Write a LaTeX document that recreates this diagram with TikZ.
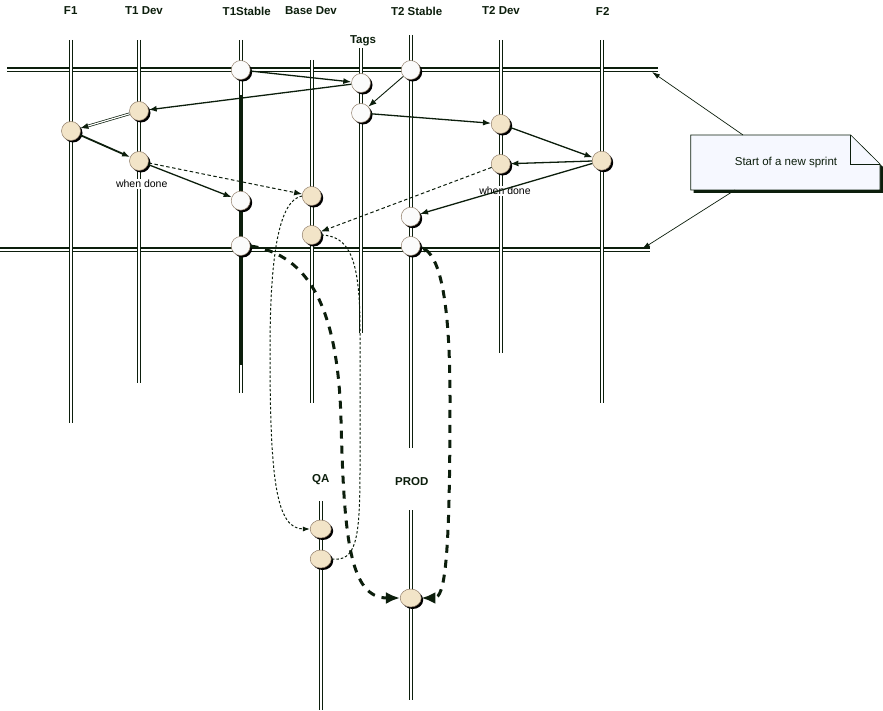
\documentclass[tikz,border=0pt]{standalone}
\usepackage{fontspec}
\setmainfont{Liberation Sans}
\usetikzlibrary{arrows.meta,shapes.geometric,shadows}
\definecolor{brInk}{RGB}{12,30,12}
\definecolor{brTan}{RGB}{242,228,200}
\definecolor{brPale}{RGB}{251,251,251}
\definecolor{brNote}{RGB}{246,248,255}
\tikzset{
 br lane/.style={draw=brInk,double=white,line width=1.1pt,double distance=1.8pt},
 br sprint/.style={draw=brInk,double=white,line width=1.7pt,double distance=1.6pt},
 br commit/.style={circle,draw=gray!70!brown,line width=.5pt,minimum size=19pt,
                   inner sep=0pt,drop shadow={shadow xshift=2pt,shadow yshift=-2pt,
                   fill=black,opacity=1}},
 br stable/.style={br commit,fill=brPale},
 br work/.style={br commit,fill=brTan},
 br deploy/.style={br work,ellipse,minimum width=21pt,minimum height=18pt},
 br flow/.style={brInk,line width=1.3pt,-{Latex[length=8pt,width=6pt]}},
 br merge/.style={br flow,line width=1pt,dash pattern=on 3.5pt off 2.5pt},
 br trace/.style={brInk,line width=1pt,dash pattern=on 2.5pt off 2pt},
 br promote/.style={brInk,line width=3pt,dash pattern=on 8pt off 7pt},
 br pointer/.style={brInk,line width=.7pt,-{Latex[length=8pt,width=5pt]}},
 br head/.style={font=\fontsize{11.5}{13}\selectfont\bfseries,text=brInk},
 br hint/.style={font=\fontsize{10.5}{12}\selectfont,fill=white,inner sep=1pt},
 br note text/.style={font=\fontsize{11.5}{13}\selectfont,text=brInk}
}
\begin{document}
\begin{tikzpicture}[x=1pt,y=-1pt]
 \useasboundingbox (0,0) rectangle (883,711);

 % sprint boundaries
 \draw[br sprint] (7,70) coordinate (sprint a west) -- (658,70) coordinate (sprint a east);
 \draw[br sprint] (0,250) coordinate (sprint b west) -- (650,250) coordinate (sprint b east);
 \coordinate (sprint a tip) at (652,72);
 \coordinate (sprint b tip) at (642,249);

 % branch lanes
 \foreach \lane/\x/\t/\b in {f1/71/40/423, t1dev/139/40/383, t1st/240.7/40/393,
   bdev/311.7/60/403, tags/361/48/333, t2st/410.7/35/448, t2dev/500.7/40/353,
   f2/601.7/40/403, qa/320.7/501/710, prod/410.7/510/700}
   \draw[br lane] (\x,\t) coordinate (\lane top) -- (\x,\b) coordinate (\lane bot);
 \draw[brInk,line width=2.2pt] (240.7,95) -- (240.7,365);

 \node[br head] (f1 head) at (70.7,11) {F1};
 \node[br head] (t1dev head) at (144,11) {T1 Dev};
 \node[br head] (t1st head) at (246.7,11) {T1Stable};
 \node[br head] (bdev head) at (311,11) {Base Dev};
 \node[br head] (tags head) at (363,41) {Tags};
 \node[br head] (t2st head) at (416.7,11) {T2 Stable};
 \node[br head] (t2dev head) at (501,11) {T2 Dev};
 \node[br head] (f2 head) at (602.7,11) {F2};
 \node[br head] (qa head) at (320.7,480) {QA};
 \node[br head] (prod head) at (411.7,481.7) {PROD};

 % commits
 \node[br stable] (t1s1) at (240.7,70) {};
 \node[br stable] (t1s2) at (240.7,200.7) {};
 \node[br stable] (t1s3) at (240.7,246) {};
 \node[br stable] (tag1) at (361,83) {};
 \node[br stable] (tag2) at (361,113) {};
 \node[br stable] (t2s1) at (410.7,70) {};
 \node[br stable] (t2s2) at (410.7,216.7) {};
 \node[br stable] (t2s3) at (410.7,246) {};
 \node[br work] (t1d1) at (139,111) {};
 \node[br work] (t1d2) at (139,161) {};
 \node[br work] (f1a) at (71,131) {};
 \node[br work] (bd1) at (311.7,196) {};
 \node[br work] (bd2) at (311.7,235) {};
 \node[br work] (t2d1) at (500.7,124) {};
 \node[br work] (t2d2) at (500.7,164) {};
 \node[br work] (f2a) at (601.7,160.7) {};
 \node[br deploy] (qa1) at (320.7,529) {};
 \node[br deploy] (qa2) at (320.7,559) {};
 \node[br deploy] (prod1) at (410.7,598) {};

 \node[br hint] (t1 done) at (141.7,184) {when done};
 \node[br hint] (t2 done) at (505,190.7) {when done};

 % sprint start
 \draw[br flow] (t1s1) -- (tag1);
 \draw[br flow] (tag1) -- (t1d1);
 \draw[br flow,line width=.9pt] (t2s1) -- (tag2);
 \draw[br flow] (tag2) -- (t2d1);

 % feature work
 \draw[br flow,double=white,line width=.7pt,double distance=1.2pt] (t1d1) -- (f1a);
 \draw[br flow,line width=1.8pt] (f1a) -- (t1d2);
 \draw[br flow] (t1d2) -- (t1s2);
 \draw[br merge] (t1d2) -- (bd1);
 \draw[br flow] (t2d1) -- (f2a);
 \draw[br flow] (f2a) -- (t2d2);
 \draw[br flow] (f2a) -- (t2s2);
 \draw[br merge] (t2d2) -- (bd2);

 % releases
 \draw[br trace,-{Latex[length=7pt,width=5pt]}] (bd1.west)
   .. controls (280,200) and (270,250) .. (270,350)
   .. controls (270,480) and (276,529) .. (qa1.west);
 \draw[br trace] (bd2.east)
   .. controls (350,236) and (360,260) .. (360,330) -- (360,470)
   .. controls (360,540) and (356,562) .. (qa2.east);
 \draw[br promote,-{Latex[length=14pt,width=12pt]}] (t1s3.east)
   .. controls (310,255) and (338,310) .. (341,420)
   .. controls (344,540) and (350,598) .. (prod1.west);
 \draw[br promote,{Latex[length=7pt,width=6pt]}-{Latex[length=14pt,width=12pt]}] (t2s3.east)
   .. controls (440,260) and (450,300) .. (450,400)
   .. controls (450,560) and (445,598) .. (prod1.east);

 % note
 \fill[brInk] (693.7,138) -- (853.7,138) -- (883,167) -- (883,193) -- (693.7,193) -- cycle;
 \filldraw[fill=brNote,draw=brInk,line width=.6pt] (690.7,135) -- (850.7,135)
   -- (880,164) -- (880,190) -- (690.7,190) -- cycle;
 \draw[brInk,line width=.5pt] (850.7,135) -- (850.7,164) -- (880,164);
 \node[br note text] (note) at (786,163) {Start of a new sprint};
 \coordinate (note top) at (743,135);
 \coordinate (note bottom) at (735,190);
 \draw[br pointer] (note top) -- (sprint a tip);
 \draw[br pointer] (note bottom) -- (sprint b tip);
\end{tikzpicture}
\end{document}
